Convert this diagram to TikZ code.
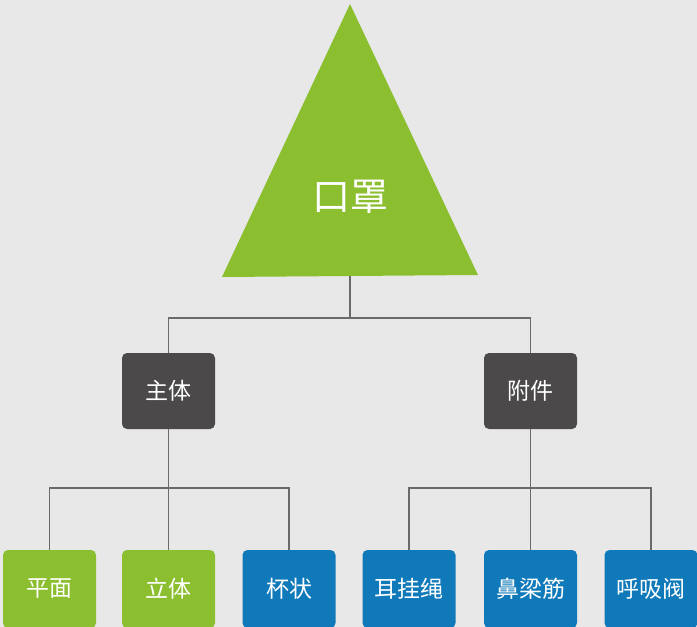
\documentclass[tikz,border=0pt]{standalone}
\usepackage{fontspec}
\setmainfont{Noto Sans CJK SC}
\newfontfamily\cjk{Noto Sans CJK SC}
\definecolor{bgc}{HTML}{E8E8E9}
\definecolor{gr}{HTML}{8BBF30}
\definecolor{dk}{HTML}{4B494A}
\definecolor{bl}{HTML}{1079BA}
\definecolor{ln}{HTML}{6A6A6A}
\begin{document}
\begin{tikzpicture}[x=1pt,y=-1pt,
  conn/.style={draw=ln,line width=1.3pt},
  midbox/.style={fill=dk,rounded corners=5pt,minimum width=93pt,minimum height=76pt,inner sep=0pt,text=white,font=\cjk\fontsize{23}{25}\selectfont},
  leafg/.style={fill=gr,rounded corners=5pt,minimum width=93pt,minimum height=78pt,inner sep=0pt,text=white,font=\cjk\fontsize{23}{25}\selectfont},
  leafb/.style={leafg,fill=bl}]
\useasboundingbox (0,0) rectangle (697,627);
\fill[bgc] (0,0) rectangle (697,627);
\begin{scope}
\clip (0,0) rectangle (697,627);
% triangle
\coordinate (apex) at (350,4);
\coordinate (bl) at (222,277);
\coordinate (br) at (478,275);
\fill[gr] (apex) -- (bl) -- (br) -- cycle;
\node[text=white,font=\cjk\fontsize{38}{40}\selectfont,inner sep=0pt] (top) at (350,197) {口罩};
\coordinate (topb) at (350,276);
\coordinate (j0) at (350,318);
% middle
\node[midbox] (m1) at (168.5,391) {主体};
\node[midbox] (m2) at (530.5,391) {附件};
% leaves
\node[leafg] (l1) at (49.5,589) {平面};
\node[leafg] (l2) at (168.5,589) {立体};
\node[leafb] (l3) at (289,589) {杯状};
\node[leafb] (l4) at (409,589) {耳挂绳};
\node[leafb] (l5) at (530.5,589) {鼻梁筋};
\node[leafb] (l6) at (651,589) {呼吸阀};
\coordinate (j1) at (168.5,488);
\coordinate (j2) at (530.5,488);
% connectors
\draw[conn] (topb) -- (j0);
\draw[conn] (m1.north) |- (j0) -| (m2.north);
\draw[conn] (m1.south) -- (j1);
\draw[conn] (l1.north) |- (j1) -| (l3.north);
\draw[conn] (j1) -- (l2.north);
\draw[conn] (m2.south) -- (j2);
\draw[conn] (l4.north) |- (j2) -| (l6.north);
\draw[conn] (j2) -- (l5.north);
\end{scope}
\end{tikzpicture}
\end{document}
